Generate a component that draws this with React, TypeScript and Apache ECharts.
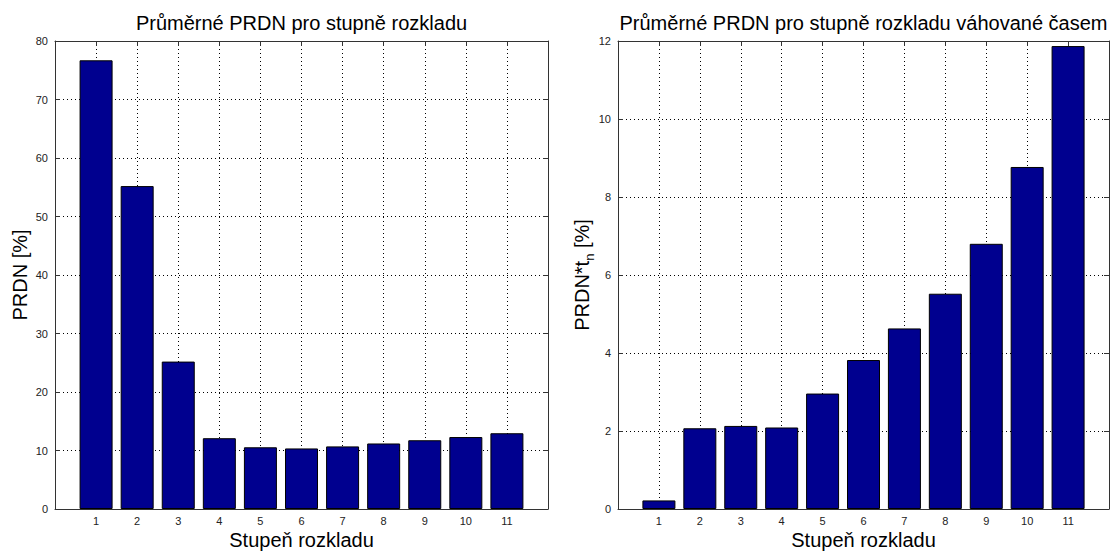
import React, { useEffect, useRef } from "react";
import * as echarts from "echarts";

// Decomposition levels shown on both x axes
const levels = [1, 2, 3, 4, 5, 6, 7, 8, 9, 10, 11];
// Mean PRDN per decomposition level [%]
const prdnValues = [76.7, 55.2, 25.2, 12.1, 10.55, 10.35, 10.7, 11.2, 11.75, 12.3, 12.95];
// Mean PRDN weighted by time per decomposition level [%]
const weightedValues = [0.22, 2.07, 2.13, 2.09, 2.96, 3.82, 4.63, 5.52, 6.8, 8.77, 11.87];

// Axis ranges and tick steps
const xRange = [0, 12];
const leftYRange = [0, 80];
const leftYStep = 10;
const rightYRange = [0, 12];
const rightYStep = 2;

const titles = ["Průměrné PRDN pro stupně rozkladu", "Průměrné PRDN pro stupně rozkladu váhované časem"];
const xLabel = "Stupeň rozkladu";

const FONT = "'Liberation Sans', Arial, Helvetica, sans-serif";
const AXIS_COLOR = "#333";
const BAR_COLOR = "#00008f";

const grids = [
  { left: 55, top: 41, width: 493, height: 468 },
  { left: 618, top: 41, width: 491, height: 468 },
];

function App() {
  const ref = useRef<HTMLDivElement>(null);

  useEffect(() => {
    if (!ref.current) return;
    const chart = echarts.init(ref.current, null, { renderer: "svg" });

    const dotted = { color: "#000", width: 1, type: [1, 3] as number[] };
    const tickLabel = { color: "#222", fontSize: 11, fontFamily: FONT };

    const xAxes: any[] = [];
    const yAxes: any[] = [];
    [0, 1].forEach((g) => {
      // bottom axis with labels and vertical grid lines
      xAxes.push({
        type: "value",
        gridIndex: g,
        min: xRange[0],
        max: xRange[1],
        interval: 1,
        axisLine: { show: true, onZero: false, lineStyle: { color: AXIS_COLOR } },
        axisTick: { show: true, inside: true, length: 5, lineStyle: { color: AXIS_COLOR } },
        axisLabel: {
          ...tickLabel,
          margin: 6,
          formatter: (v: number) => (v >= levels[0] && v <= levels[levels.length - 1] ? String(v) : ""),
        },
        splitLine: { show: true, lineStyle: dotted },
      });
      // top mirror axis for the box
      xAxes.push({
        type: "value",
        gridIndex: g,
        position: "top",
        min: xRange[0],
        max: xRange[1],
        interval: 1,
        axisLine: { show: true, onZero: false, lineStyle: { color: AXIS_COLOR } },
        axisTick: { show: true, inside: true, length: 5, lineStyle: { color: AXIS_COLOR } },
        axisLabel: { show: false },
        splitLine: { show: false },
      });
      const yr = g === 0 ? leftYRange : rightYRange;
      const ys = g === 0 ? leftYStep : rightYStep;
      yAxes.push({
        type: "value",
        gridIndex: g,
        min: yr[0],
        max: yr[1],
        interval: ys,
        axisLine: { show: true, onZero: false, lineStyle: { color: AXIS_COLOR } },
        axisTick: { show: true, inside: true, length: 5, lineStyle: { color: AXIS_COLOR } },
        axisLabel: { ...tickLabel, margin: 7 },
        splitLine: { show: true, lineStyle: dotted },
      });
      yAxes.push({
        type: "value",
        gridIndex: g,
        position: "right",
        min: yr[0],
        max: yr[1],
        interval: ys,
        axisLine: { show: true, onZero: false, lineStyle: { color: AXIS_COLOR } },
        axisTick: { show: true, inside: true, length: 5, lineStyle: { color: AXIS_COLOR } },
        axisLabel: { show: false },
        splitLine: { show: false },
      });
    });

    const barStyle = { color: BAR_COLOR, borderColor: "#000", borderWidth: 1 };

    const titleStyle = { fill: "#000", font: `20px ${FONT}` };
    const labelStyle = { fill: "#000", font: `20px ${FONT}` };

    chart.setOption({
      animation: false,
      grid: grids.map((g) => ({ ...g, containLabel: false })),
      xAxis: xAxes,
      yAxis: yAxes,
      series: [
        {
          type: "bar",
          xAxisIndex: 0,
          yAxisIndex: 0,
          barWidth: 33,
          itemStyle: barStyle,
          data: levels.map((l, i) => [l, prdnValues[i]]),
        },
        {
          type: "bar",
          xAxisIndex: 2,
          yAxisIndex: 2,
          barWidth: 33,
          itemStyle: barStyle,
          data: levels.map((l, i) => [l, weightedValues[i]]),
        },
      ],
      graphic: [
        ...grids.map((g, i) => ({
          type: "text",
          x: g.left + g.width / 2,
          y: 23,
          style: { ...titleStyle, text: titles[i], align: "center", verticalAlign: "middle" },
        })),
        ...grids.map((g) => ({
          type: "text",
          x: g.left + g.width / 2,
          y: 540,
          style: { ...labelStyle, text: xLabel, align: "center", verticalAlign: "middle" },
        })),
        {
          type: "text",
          x: 20,
          y: grids[0].top + grids[0].height / 2,
          rotation: Math.PI / 2,
          style: { ...labelStyle, text: "PRDN [%]", align: "center", verticalAlign: "middle" },
        },
        {
          type: "text",
          x: 582,
          y: grids[1].top + grids[1].height / 2,
          rotation: Math.PI / 2,
          style: {
            text: "{m|PRDN*t}{s|n}{m| [%]}",
            align: "center",
            verticalAlign: "middle",
            rich: {
              m: { fontSize: 20, fontFamily: FONT, color: "#000", lineHeight: 27, verticalAlign: "middle" },
              s: { fontSize: 13, fontFamily: FONT, color: "#000", lineHeight: 14, verticalAlign: "bottom" },
            },
          },
        },
      ],
    });

    return () => chart.dispose();
  }, []);

  return (
    <div
      ref={ref}
      style={{ position: "absolute", left: 0, top: 0, width: 1112, height: 551, background: "#fff" }}
    />
  );
}

export default App;
